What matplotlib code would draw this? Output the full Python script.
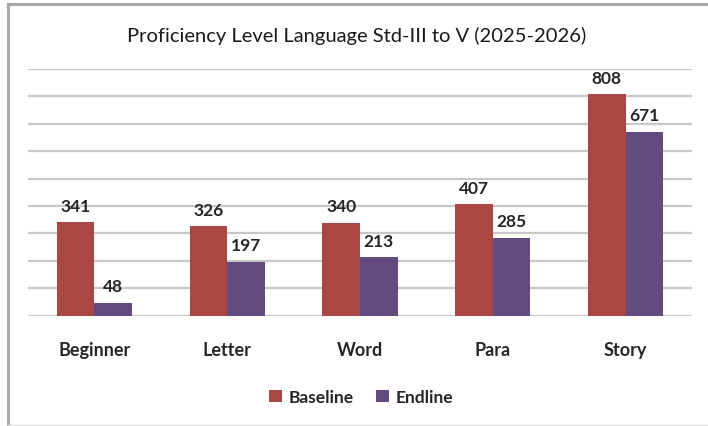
import matplotlib
matplotlib.use('Agg')
import matplotlib.pyplot as plt
from matplotlib.lines import Line2D
import numpy as np

categories = ['Beginner', 'Letter', 'Word', 'Para', 'Story']
baseline = [341, 326, 340, 407, 808]
endline = [48, 197, 213, 285, 671]
title = 'Proficiency Level Language Std-III to V (2025-2026)'

plt.rcParams['font.family'] = ['Lato', 'DejaVu Sans']

fig = plt.figure(figsize=(7.08, 4.27), dpi=100)
ax = fig.add_axes([28/708, 0.2583, 664/708, 0.5777])

x = np.arange(len(categories))
w = 0.283
b1 = ax.bar(x - w/2, baseline, w, color='#AA4643', label='Baseline', zorder=3)
b2 = ax.bar(x + w/2, endline, w, color='#634B80', label='Endline', zorder=3)

for bars, vals in [(b1, baseline), (b2, endline)]:
	for r, v in zip(bars, vals):
		ax.annotate(str(v), (r.get_x() + r.get_width()/2, v), xytext=(0, 6),
			textcoords='offset points', ha='center', va='bottom',
			fontsize=12.5, fontweight='bold', color='#262626')

ax.set_xlim(-0.5, len(categories) - 0.5)
ax.set_ylim(0, 900)
ax.set_yticks(np.arange(0, 901, 100))
ax.yaxis.grid(True, color='#C8C8C8', linewidth=1.6, zorder=0)
ax.tick_params(axis='y', left=False, labelleft=False)
ax.tick_params(axis='x', bottom=False, pad=15)
ax.set_xticks(x)
ax.set_xticklabels(categories, fontsize=13, fontweight='bold', color='#262626')
for s in ax.spines.values():
	s.set_visible(False)

fig.text(0.504, 0.915, title, ha='center', va='center', fontsize=14.5, color='#1a1a1a')

fig.legend(loc='center', bbox_to_anchor=(0.51, 0.068), ncol=2, frameon=False,
	prop={'size': 12.5, 'weight': 'bold'}, handlelength=0.75, handleheight=0.75,
	handletextpad=0.35, columnspacing=1.3, labelcolor='#262626')

# outer chart frame (cropped)
fig.add_artist(Line2D([7.5/708, 7.5/708], [0, 1 - 4.5/427], transform=fig.transFigure, color='#A8A8A8', linewidth=2.2))
fig.add_artist(Line2D([7.5/708, 1], [1 - 4.5/427, 1 - 4.5/427], transform=fig.transFigure, color='#A8A8A8', linewidth=2.2))
fig.add_artist(Line2D([7.5/708, 1], [1/427, 1/427], transform=fig.transFigure, color='#DDDDDD', linewidth=1))

fig.savefig('out.png', dpi=100)
